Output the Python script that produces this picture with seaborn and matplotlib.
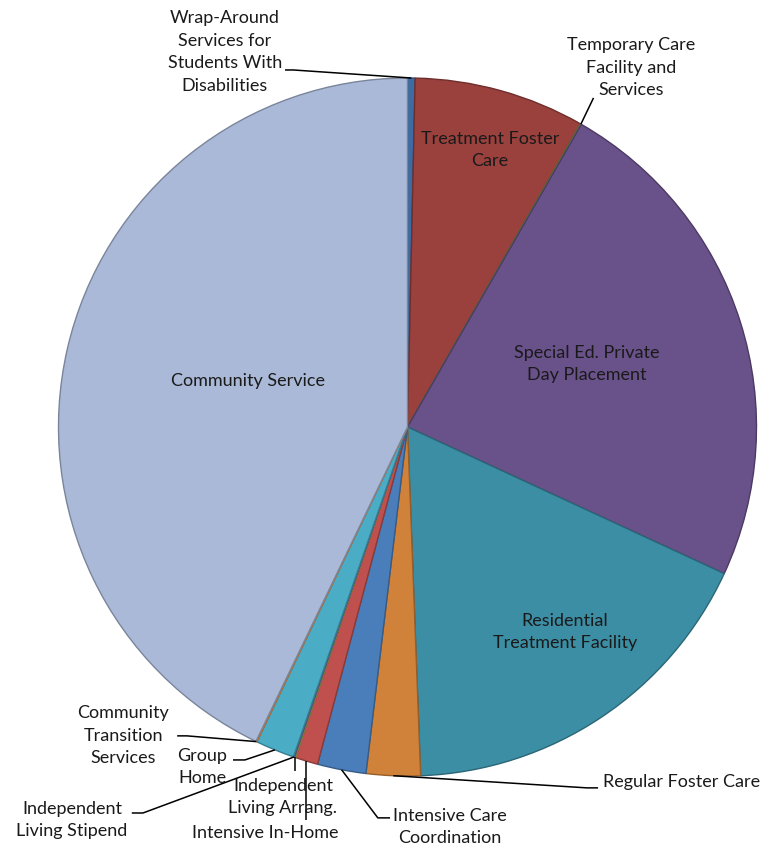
import matplotlib
matplotlib.use("Agg")
import matplotlib.pyplot as plt
import matplotlib.colors as mcolors
import numpy as np
import seaborn as sns

# Spending share by service type (percent), listed clockwise from 12 o'clock
services = [
    "Wrap-Around\nServices for\nStudents With\nDisabilities",
    "Treatment Foster\nCare",
    "Temporary Care\nFacility and\nServices",
    "Special Ed. Private\nDay Placement",
    "Residential\nTreatment Facility",
    "Regular Foster Care",
    "Intensive Care\nCoordination",
    "Intensive In-Home",
    "Independent\nLiving Arrang.",
    "Independent\nLiving Stipend",
    "Group\nHome",
    "Community\nTransition\nServices",
    "Community Service",
]
shares = [0.35, 7.9, 0.05, 23.6, 17.5, 2.5, 2.25, 1.05, 0.05, 0.05, 1.8, 0.05, 42.85]
colors = ["#3D6BA3", "#9A403D", "#7E9A48", "#69518A", "#3C8EA5", "#D1823A",
          "#4A7EBB", "#C0504D", "#9BBB59", "#8064A2", "#4BACC6", "#F79646",
          "#AAB9D7"]

sns.set_theme(style="white")
plt.rcParams["font.family"] = ["Lato", "DejaVu Sans"]

W, H, DPI = 779, 851, 100
fig = plt.figure(figsize=(W / DPI, H / DPI), dpi=DPI)
ax = fig.add_axes([0, 0, 1, 1])
ax.set_axis_off()

# pie centre and radius in pixels
CX, CY, R = 407.5, 427.0, 349.0

edge_cols = [tuple(c * 0.72 for c in mcolors.to_rgb(col)) for col in colors]
wedges, _ = ax.pie(shares, colors=colors, startangle=90, counterclock=False,
                   radius=1.0, center=(0, 0), frame=False,
                   wedgeprops=dict(linewidth=1.0))
for w, ec in zip(wedges, edge_cols):
    w.set_edgecolor(ec)
ax.set_xlim(-CX / R, (W - CX) / R)
ax.set_ylim(-(H - CY) / R, CY / R)
ax.set_aspect("auto")


def edge_point(w):
    mid = np.deg2rad((w.theta1 + w.theta2) / 2)
    return np.cos(mid), np.sin(mid)


FS = 13.0
TXT = "#1a1a1a"
LS = 1.5

# labels placed inside their wedges
inside = {1: (0.236, 0.794), 3: (0.514, 0.181), 4: (0.451, -0.587), 12: (-0.457, 0.132)}
for i, (x, y) in inside.items():
    ax.text(x, y, services[i], ha="center", va="center", fontsize=FS,
            color=TXT, linespacing=LS)

# outside labels: text anchor, alignment, leader path (elbow points)
outside = {
    0: ((-0.523, 1.074), "center", [(-0.327, 1.023), (-0.351, 1.023)]),
    2: ((0.640, 1.029), "center", [(0.533, 0.943)]),
    5: ((0.560, -1.017), "left", [(0.514, -1.034), (0.546, -1.034)]),
    6: ((0.122, -1.146), "center", [(-0.085, -1.120), (-0.050, -1.120)]),
    7: ((-0.408, -1.163), "center", [("x", -1.126)]),
    8: ((-0.357, -1.060), "center", [("x", -0.985)]),
    9: ((-0.961, -1.126), "center", [(-0.758, -1.106), (-0.790, -1.106)]),
    10: ((-0.589, -0.974), "center", [(-0.466, -0.954), (-0.500, -0.954)]),
    11: ((-0.815, -0.885), "center", [(-0.632, -0.885), (-0.660, -0.885)]),
}
for i, ((x, y), ha, path) in outside.items():
    ax.text(x, y, services[i], ha=ha, va="center", fontsize=FS,
            color=TXT, linespacing=LS)
    sx, sy = edge_point(wedges[i])
    xs, ys = [sx], [sy]
    for px, py in path:
        xs.append(sx if px == "x" else px)
        ys.append(py)
    ax.plot(xs, ys, color="black", lw=1.1, solid_capstyle="butt", zorder=3)

fig.savefig("out.png", dpi=DPI, facecolor="white")
